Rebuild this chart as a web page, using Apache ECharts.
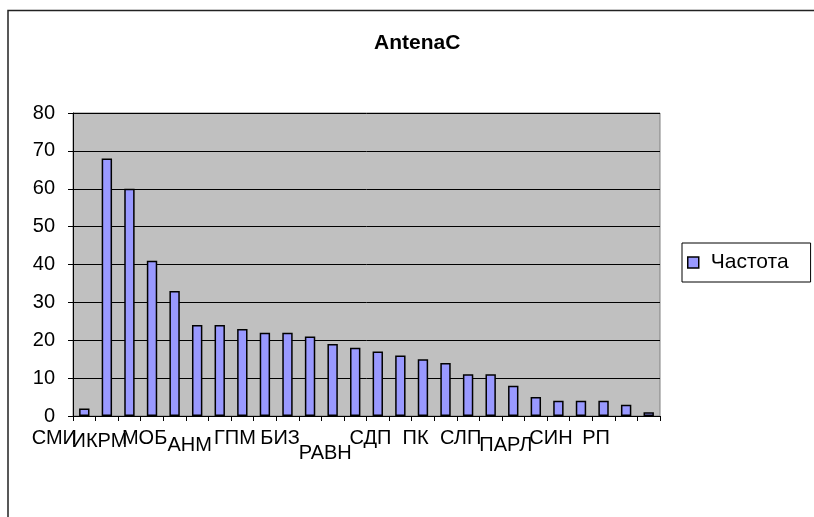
<!DOCTYPE html>
<html>
<head>
<meta charset="utf-8">
<title>AntenaC</title>
<script src="https://cdn.jsdelivr.net/npm/echarts@6/dist/echarts.min.js"></script>
<style>
  html, body { margin: 0; padding: 0; background: #fff; }
  #main { width: 814px; height: 517px; }
</style>
</head>
<body>
<div id="main"></div>
<script>
  // подписи по оси X (Excel показывает каждую вторую категорию)
  var tickLabels = ['СМИ', 'ИКРМ', 'МОБ', 'АНМ', 'ГПМ', 'БИЗ', 'РАВН', 'СДП', 'ПК', 'СЛП', 'ПАРЛ', 'СИН', 'РП'];
  // частоты по 26 категориям
  var freq = [2, 68, 60, 41, 33, 24, 24, 23, 22, 22, 21, 19, 18, 17, 16, 15, 14, 11, 11, 8, 5, 4, 4, 4, 3, 1];
  var yTicks = [0, 10, 20, 30, 40, 50, 60, 70, 80];

  var categories = freq.map(function (v, i) { return String(i + 1); });
  // небольшое смещение вниз некоторых подписей, как в оригинале
  var drop = { 'ИКРМ': 'b', 'АНМ': 'c', 'РАВН': 'd', 'ПАРЛ': 'c' };
  var font = 'Liberation Sans, Arial, sans-serif';

  var chart = echarts.init(document.getElementById('main'));
  chart.setOption({
    animation: false,
    backgroundColor: '#fff',
    title: {
      text: 'AntenaC',
      left: 369,
      top: 28,
      textStyle: { fontFamily: font, fontSize: 21, fontWeight: 'bold', color: '#000' }
    },
    legend: {
      data: ['Частота'],
      left: 682,
      top: 243,
      orient: 'vertical',
      padding: [9, 22, 9, 5],
      borderColor: '#000',
      borderWidth: 1,
      itemWidth: 11,
      itemHeight: 11,
      icon: 'rect',
      itemStyle: { color: '#9999FF', borderColor: '#000', borderWidth: 1.5 },
      textStyle: { fontFamily: font, fontSize: 21, color: '#000', padding: [0, 0, 0, 7] }
    },
    grid: {
      left: 73,
      right: 154,
      top: 113,
      bottom: 101,
      show: true,
      backgroundColor: '#C0C0C0',
      borderColor: '#808080',
      borderWidth: 1
    },
    xAxis: {
      type: 'category',
      data: categories,
      axisLine: { lineStyle: { color: '#000', width: 1 } },
      axisTick: { show: true, interval: 0, length: 5, lineStyle: { color: '#000' } },
      axisLabel: {
        interval: 0,
        margin: 12,
        padding: [0, 60, 0, 0],
        fontFamily: font,
        fontSize: 20,
        color: '#000',
        formatter: function (val, idx) {
          if (idx % 2 !== 0) return '';
          var t = tickLabels[idx / 2];
          if (!t) return '';
          return '{' + (drop[t] || 'a') + '|' + t + '}';
        },
        rich: {
          a: { fontFamily: font, fontSize: 20, color: '#000' },
          b: { fontFamily: font, fontSize: 20, color: '#000', padding: [3, 0, 0, 0] },
          c: { fontFamily: font, fontSize: 20, color: '#000', padding: [7, 0, 0, 0] },
          d: { fontFamily: font, fontSize: 20, color: '#000', padding: [15, 0, 0, 0] }
        }
      },
      splitLine: { show: false }
    },
    yAxis: {
      type: 'value',
      min: yTicks[0],
      max: yTicks[yTicks.length - 1],
      interval: 10,
      axisLine: { show: true, lineStyle: { color: '#000', width: 1 } },
      axisTick: { show: true, length: 5, lineStyle: { color: '#000' } },
      axisLabel: { margin: 18, fontFamily: font, fontSize: 20, color: '#000' },
      splitLine: { show: true, lineStyle: { color: '#000', width: 1 } }
    },
    graphic: [{
      type: 'polyline',
      shape: { points: [[8, 517], [8, 10.5], [814, 10.5]] },
      style: { stroke: '#222', lineWidth: 1.5, fill: null },
      silent: true
    }],
    series: [{
      name: 'Частота',
      type: 'bar',
      data: freq,
      barWidth: '46%',
      itemStyle: { color: '#9999FF', borderColor: '#000', borderWidth: 1.5 }
    }]
  });
</script>
</body>
</html>
